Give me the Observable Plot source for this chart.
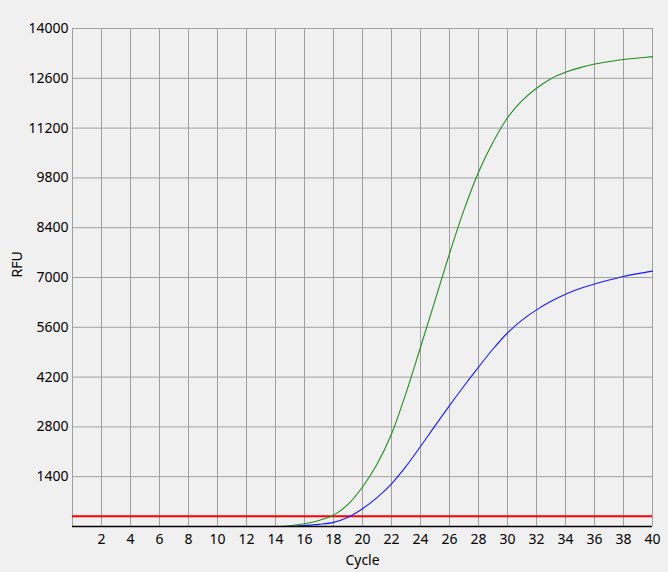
<!DOCTYPE html>
<html><head><meta charset="utf-8">
<script src="https://cdn.jsdelivr.net/npm/d3@7"></script>
<script src="https://cdn.jsdelivr.net/npm/@observablehq/plot@0.6"></script>
<style>
body{margin:0;background:#f0f0f0;}
svg{display:block;}
</style>
</head><body><div id="chart"></div>
<script>
const cycles = [14,15,16,17,18,19,20,21,22,23,24,25,26,27,28,29,30,31,32,33,34,35,36,37,38,39,40];
const greenRFU = [0,20,75,170,320,620,1110,1750,2600,3750,5040,6350,7670,8900,9960,10800,11490,11970,12320,12590,12770,12900,13000,13070,13130,13170,13210];
const blueRFU  = [0,5,28,60,115,260,500,810,1200,1690,2250,2830,3400,3950,4480,4990,5440,5800,6090,6330,6530,6690,6820,6930,7030,7110,7180];
const threshold = 290;
const xTicks = [2,4,6,8,10,12,14,16,18,20,22,24,26,28,30,32,34,36,38,40];
const yTicks = [1400,2800,4200,5600,7000,8400,9800,11200,12600,14000];

const green = cycles.map((c,i)=>({cycle:c, rfu:greenRFU[i]}));
const blue = cycles.map((c,i)=>({cycle:c, rfu:blueRFU[i]}));

const font = "'Noto Sans', 'Open Sans', sans-serif";
const chart = Plot.plot({
  width: 668,
  height: 572,
  marginLeft: 72,
  marginRight: 16,
  marginTop: 28,
  marginBottom: 46,
  style: {background: "#f0f0f0", fontFamily: font, fontSize: "14px", color: "#000"},
  x: {domain: [0, 40]},
  y: {domain: [0, 14000]},
  marks: [
    Plot.ruleX(xTicks, {stroke: "#a0a0a0", strokeWidth: 1, strokeOpacity: 1}),
    Plot.ruleY(yTicks, {stroke: "#a0a0a0", strokeWidth: 1, strokeOpacity: 1}),
    Plot.ruleX([0], {stroke: "#a0a0a0", strokeWidth: 1}),
    Plot.ruleY([threshold], {stroke: "#ff0000", strokeWidth: 2}),
    Plot.line(blue, {x: "cycle", y: "rfu", stroke: "#1a1aff", strokeWidth: 1.1, curve: "catmull-rom"}),
    Plot.line(green, {x: "cycle", y: "rfu", stroke: "#228b22", strokeWidth: 1.1, curve: "catmull-rom"}),
    Plot.ruleY([0], {stroke: "#000", strokeWidth: 1.5}),
    Plot.axisX({ticks: xTicks, tickSize: 0, tickPadding: 8, label: null, fontSize: 14}),
    Plot.axisY({ticks: yTicks, tickSize: 0, tickPadding: 4, label: null, fontSize: 14, tickFormat: d => String(d)}),
    Plot.text(["Cycle"], {frameAnchor: "bottom", dy: 38, fontSize: 14}),
    Plot.text(["RFU"], {frameAnchor: "left", dx: -55, rotate: -90, fontSize: 14})
  ]
});
document.getElementById("chart").appendChild(chart);
</script>
</body></html>
